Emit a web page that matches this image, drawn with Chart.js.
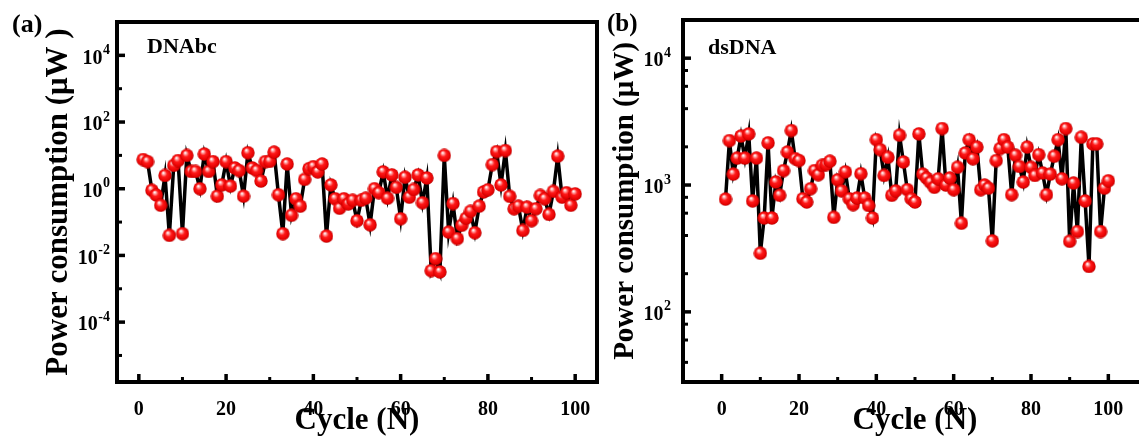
<!DOCTYPE html>
<html lang="en">
<head>
  <meta charset="UTF-8">
  <title>Power consumption vs cycle</title>
  <script src="https://cdn.jsdelivr.net/npm/chart.js"></script>
  <style>
    html, body {
      margin: 0;
      padding: 0;
      background: #fff;
      overflow: hidden;
    }
    body {
      position: relative;
      width: 1139px;
      height: 437px;
      font-family: 'Liberation Serif', 'Times New Roman', serif;
    }
    canvas {
      position: absolute;
      top: 0;
    }
    .lbl {
      position: absolute;
      font-weight: bold;
      color: #000;
      line-height: 1;
      white-space: nowrap;
    }
  </style>
</head>
<body>
  <canvas id="chartA" width="610" height="437" style="left:0"></canvas>
  <canvas id="chartB" width="560" height="437" style="left:600px"></canvas>
  <div class="lbl" style="left:12px; top:11px; font-size:26px">(a)</div>
  <div class="lbl" style="left:147px; top:35px; font-size:22px">DNAbc</div>
  <div class="lbl" style="left:607px; top:10px; font-size:25px">(b)</div>
  <div class="lbl" style="left:708px; top:36px; font-size:22px">dsDNA</div>

  <script>
    const cycles = [
      1, 2, 3, 4, 5, 6, 7, 8, 9, 10, 11, 12, 13, 14, 15, 16, 17, 18, 19, 20,
      21, 22, 23, 24, 25, 26, 27, 28, 29, 30, 31, 32, 33, 34, 35, 36, 37, 38, 39, 40,
      41, 42, 43, 44, 45, 46, 47, 48, 49, 50, 51, 52, 53, 54, 55, 56, 57, 58, 59, 60,
      61, 62, 63, 64, 65, 66, 67, 68, 69, 70, 71, 72, 73, 74, 75, 76, 77, 78, 79, 80,
      81, 82, 83, 84, 85, 86, 87, 88, 89, 90, 91, 92, 93, 94, 95, 96, 97, 98, 99, 100
    ];

    // (a) DNAbc, µW
    const powerA = [
      7.5, 6.5, 0.9, 0.65, 0.32, 2.5, 0.04, 5, 7, 0.045,
      10, 3.3, 3.3, 1.0, 11, 3.3, 6.5, 0.6, 1.3, 6.5,
      1.2, 4.2, 3.5, 0.6, 12, 4.2, 3.5, 1.7, 6.5, 6.6,
      12.5, 0.66, 0.045, 5.5, 0.16, 0.5, 0.3, 1.9, 4.0, 4.6,
      3.2, 5.5, 0.038, 1.3, 0.5, 0.26, 0.5, 0.35, 0.45, 0.11,
      0.45, 0.52, 0.083, 1.0, 0.76, 3.2, 0.52, 2.6, 1.1, 0.126,
      2.2, 0.56, 0.95, 2.6, 0.38, 2.1, 0.0035, 0.008, 0.0032, 10,
      0.05, 0.36, 0.032, 0.08, 0.13, 0.21, 0.048, 0.3, 0.8, 0.93,
      5.3, 13, 1.3, 14, 0.59, 0.25, 0.3, 0.056, 0.28, 0.11,
      0.25, 0.63, 0.5, 0.17, 0.83, 9.5, 0.56, 0.76, 0.32, 0.7
    ];

    // (b) dsDNA, µW
    const powerB = [
      775, 2240, 1220, 1630, 2430, 1630, 2530, 750, 1630, 290,
      550, 2150, 550, 1057, 830, 1300, 1820, 2690, 1615, 1560,
      780, 735, 935, 1300, 1206, 1430, 1450, 1540, 556, 1100,
      900, 1270, 780, 700, 790, 1230, 790, 690, 550, 2280,
      1900, 1190, 1655, 830, 900, 2470, 1520, 920, 780, 735,
      2530, 1220, 1135, 1050, 960, 1120, 2790, 1000, 1135, 918,
      1380, 500, 1790, 2280, 1610, 1990, 918, 1000, 945, 363,
      1560, 1940, 2280, 1990, 840, 1718, 1400, 1056, 1990, 1380,
      1190, 1735, 1245, 840, 1220, 1685, 2280, 1120, 2790, 360,
      1037, 430, 2380, 750, 228, 2110, 2110, 430, 945, 1080
    ];

    const xTicks = [0, 20, 40, 60, 80, 100];
    const xMinorTicks = [10, 30, 50, 70, 90];
    const yTicksA = [1e-4, 1e-2, 1, 1e2, 1e4];
    const yMinorA = [1e-5, 1e-3, 1e-1, 10, 1e3];
    const yTicksB = [1e2, 1e3, 1e4];
    const yMinorB = [40, 60, 80, 200, 400, 600, 800, 2000, 4000, 6000, 8000];

    const FONT = "'Liberation Serif', 'Times New Roman', serif";

    // red glossy ball used as marker
    function makeBall(d) {
      const c = document.createElement('canvas');
      c.width = d;
      c.height = d;
      const g = c.getContext('2d');
      const r = d / 2;
      const grad = g.createRadialGradient(r * 0.75, r * 0.6, r * 0.05, r, r, r);
      grad.addColorStop(0, '#ffffff');
      grad.addColorStop(0.2, '#ff9090');
      grad.addColorStop(0.42, '#ff1a1a');
      grad.addColorStop(0.85, '#e30000');
      grad.addColorStop(1, '#a50000');
      g.fillStyle = grad;
      g.beginPath();
      g.arc(r, r, r - 0.3, 0, Math.PI * 2);
      g.fill();
      return c;
    }
    const ball = makeBall(14);

    // thick frame, inward ticks and 10^n labels like the original plot
    const frameTicks = {
      id: 'frameTicks',
      afterDraw(chart, args, opts) {
        const { ctx, chartArea: a, scales: { x, y } } = chart;
        ctx.save();
        ctx.strokeStyle = '#000';
        const seg = (x1, y1, x2, y2, w) => {
          ctx.lineWidth = w;
          ctx.beginPath();
          ctx.moveTo(x1, y1);
          ctx.lineTo(x2, y2);
          ctx.stroke();
        };
        opts.xMajor.forEach(v => {
          const px = x.getPixelForValue(v);
          seg(px, a.bottom, px, a.bottom - 8, 3.5);
        });
        opts.xMinor.forEach(v => {
          const px = x.getPixelForValue(v);
          seg(px, a.bottom, px, a.bottom - 5, 3);
        });
        opts.yMajor.forEach(v => {
          const py = y.getPixelForValue(v);
          seg(a.left, py, a.left + 8, py, 3.5);
        });
        opts.yMinor.forEach(v => {
          const py = y.getPixelForValue(v);
          seg(a.left, py, a.left + 5, py, 3);
        });
        ctx.lineWidth = 4;
        ctx.strokeRect(a.left, a.top, a.right - a.left, a.bottom - a.top);

        // y tick labels: "10" with a raised exponent
        ctx.fillStyle = '#000';
        ctx.textAlign = 'right';
        ctx.textBaseline = 'middle';
        const right = a.left - opts.labelPad;
        opts.yMajor.forEach(v => {
          const py = y.getPixelForValue(v);
          const exp = String(Math.round(Math.log10(v)));
          ctx.font = 'bold 14px ' + FONT;
          const ew = ctx.measureText(exp).width;
          ctx.fillText(exp, right, py - 5);
          ctx.font = 'bold 20px ' + FONT;
          ctx.fillText('10', right - ew - 0.5, py + 3);
        });
        ctx.restore();
      }
    };

    function makeChart(id, values, opt) {
      const points = cycles.map((c, i) => ({ x: c, y: values[i] }));
      return new Chart(document.getElementById(id).getContext('2d'), {
        type: 'line',
        data: {
          datasets: [{
            data: points,
            borderColor: '#000',
            borderWidth: 3.5,
            tension: 0,
            fill: false,
            pointStyle: ball,
            pointRadius: 7,
            clip: 8
          }]
        },
        plugins: [frameTicks],
        options: {
          responsive: false,
          animation: false,
          events: [],
          layout: { padding: opt.padding },
          plugins: {
            legend: { display: false },
            tooltip: { enabled: false },
            frameTicks: {
              xMajor: xTicks,
              xMinor: xMinorTicks,
              yMajor: opt.yTicks,
              yMinor: opt.yMinor,
              labelPad: opt.yTickPad
            }
          },
          scales: {
            x: {
              type: 'linear',
              min: opt.xMin,
              max: opt.xMax,
              grid: { display: false },
              border: { display: false },
              afterBuildTicks: s => { s.ticks = xTicks.map(v => ({ value: v })); },
              afterFit: s => { s.height = 55; },
              ticks: {
                autoSkip: false,
                maxRotation: 0,
                padding: 8,
                color: '#000',
                font: { family: FONT, size: 20, weight: 'bold' }
              },
              title: {
                display: true,
                text: 'Cycle (N)',
                color: '#000',
                padding: { top: 0, bottom: -3 },
                font: { family: FONT, size: 31, weight: 'bold' }
              }
            },
            y: {
              type: 'logarithmic',
              min: opt.yMin,
              max: opt.yMax,
              grid: { display: false },
              border: { display: false },
              afterBuildTicks: s => { s.ticks = opt.yTicks.map(v => ({ value: v })); },
              afterFit: s => { s.width = opt.yWidth; },
              ticks: { display: false },
              title: {
                display: true,
                text: opt.yTitle,
                color: '#000',
                padding: { top: 0, bottom: 0 },
                font: { family: FONT, size: opt.yTitleSize, weight: 'bold' }
              }
            }
          }
        }
      });
    }

    makeChart('chartA', powerA, {
      padding: { left: 40, top: 22, right: 13, bottom: 0 },
      yWidth: 77,
      yTickPad: 7,
      xMin: -5, xMax: 105,
      yMin: 1.6e-6, yMax: 1e5,
      yTicks: yTicksA,
      yMinor: yMinorA,
      yTitle: 'Power consumption (μW )',
      yTitleSize: 31
    });

    makeChart('chartB', powerB, {
      padding: { left: 8, top: 20, right: 13, bottom: 0 },
      yWidth: 75,
      yTickPad: 12,
      xMin: -10, xMax: 110,
      yMin: 28, yMax: 2e4,
      yTicks: yTicksB,
      yMinor: yMinorB,
      yTitle: 'Power consumption (μW)',
      yTitleSize: 29
    });
  </script>
</body>
</html>
